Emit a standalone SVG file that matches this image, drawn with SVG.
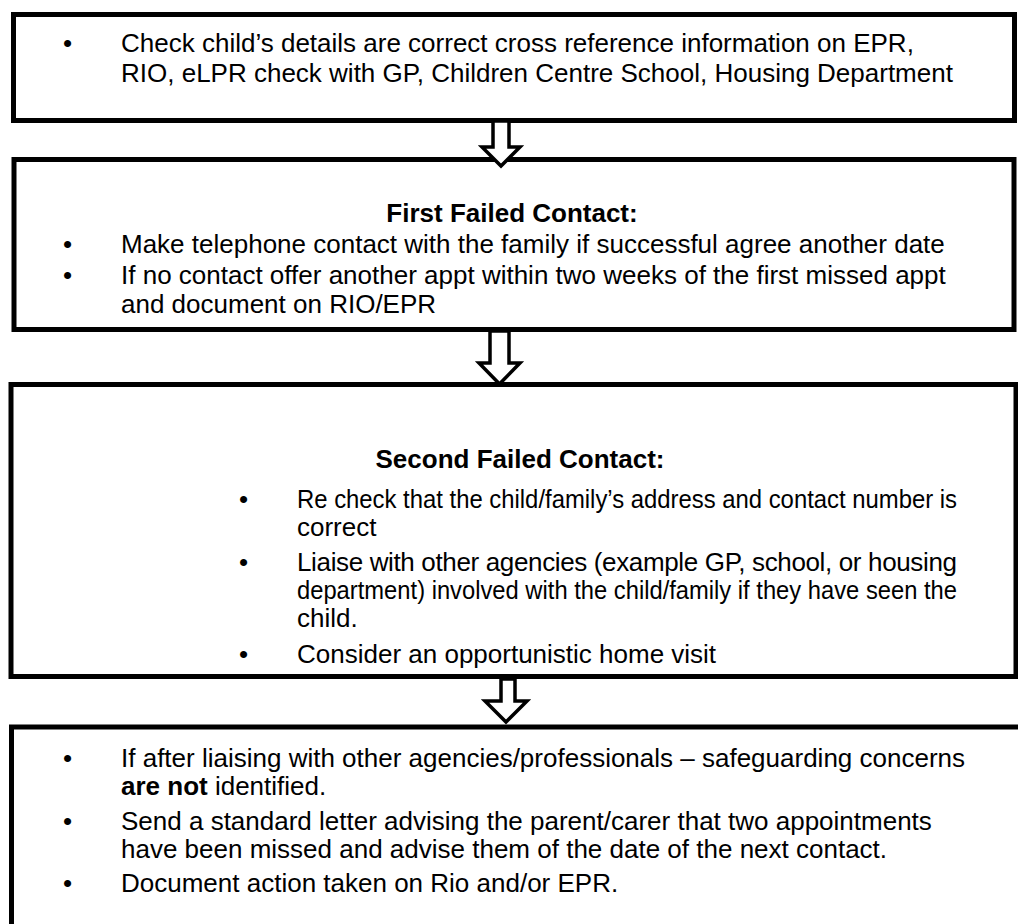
<svg xmlns="http://www.w3.org/2000/svg" width="1018" height="924" viewBox="0 0 1018 924">
<style>
.box{fill:#fff;stroke:#000;stroke-width:5}
.arr{fill:#fff;stroke:#000;stroke-width:3.5;stroke-linejoin:miter}
text{font-family:"Liberation Sans",Arial,sans-serif;font-size:26px;fill:#000}
.b{font-weight:bold}
</style>
<rect width="1018" height="924" fill="#fff"/>
<g id="box1">
<rect class="box" x="13.5" y="14.5" width="1001" height="106"/>
<text x="63" y="52">•</text>
<text x="121" y="52">Check child’s details are correct cross reference information on EPR,</text>
<text x="121" y="82">RIO, eLPR check with GP, Children Centre School, Housing Department</text>
</g>
<g id="box2">
<rect class="box" x="14" y="159.5" width="1000" height="170"/>
<text class="b" x="512" y="222" text-anchor="middle">First Failed Contact:</text>
<text x="63" y="253">•</text>
<text x="121" y="253">Make telephone contact with the family if successful agree another date</text>
<text x="63" y="284">•</text>
<text x="121" y="284">If no contact offer another appt within two weeks of the first missed appt</text>
<text x="121" y="313">and document on RIO/EPR</text>
</g>
<g id="box3">
<rect class="box" x="11" y="384.5" width="1005" height="292"/>
<text class="b" x="520" y="468" text-anchor="middle">Second Failed Contact:</text>
<text x="239" y="508">•</text>
<text x="297" y="508" textLength="660" lengthAdjust="spacingAndGlyphs">Re check that the child/family’s address and contact number is</text>
<text x="297" y="536">correct</text>
<text x="239" y="571">•</text>
<text x="297" y="571" textLength="660" lengthAdjust="spacing">Liaise with other agencies (example GP, school, or housing</text>
<text x="297" y="599" textLength="660" lengthAdjust="spacingAndGlyphs">department) involved with the child/family if they have seen the</text>
<text x="297" y="627">child.</text>
<text x="239" y="663">•</text>
<text x="297" y="663">Consider an opportunistic home visit</text>
</g>
<g id="box4">
<rect class="box" x="11.5" y="727" width="1030" height="230"/>
<text x="63" y="767">•</text>
<text x="121" y="767">If after liaising with other agencies/professionals – safeguarding concerns</text>
<text x="121" y="795"><tspan class="b">are not</tspan> identified.</text>
<text x="63" y="830">•</text>
<text x="121" y="830">Send a standard letter advising the parent/carer that two appointments</text>
<text x="121" y="858">have been missed and advise them of the date of the next contact.</text>
<text x="63" y="892">•</text>
<text x="121" y="892">Document action taken on Rio and/or EPR.</text>
</g>
<g id="connectors">
<path class="arr" d="M493,121 L509,121 L509,147 L520,147 L501,166 L482,147 L493,147 Z"/>
<path class="arr" d="M490,331 L509,331 L509,363 L520,363 L499.5,384 L479,363 L490,363 Z"/>
<path class="arr" d="M501,679 L515,679 L515,701 L527,701 L506,722 L485,701 L501,701 Z"/>
</g>
</svg>
